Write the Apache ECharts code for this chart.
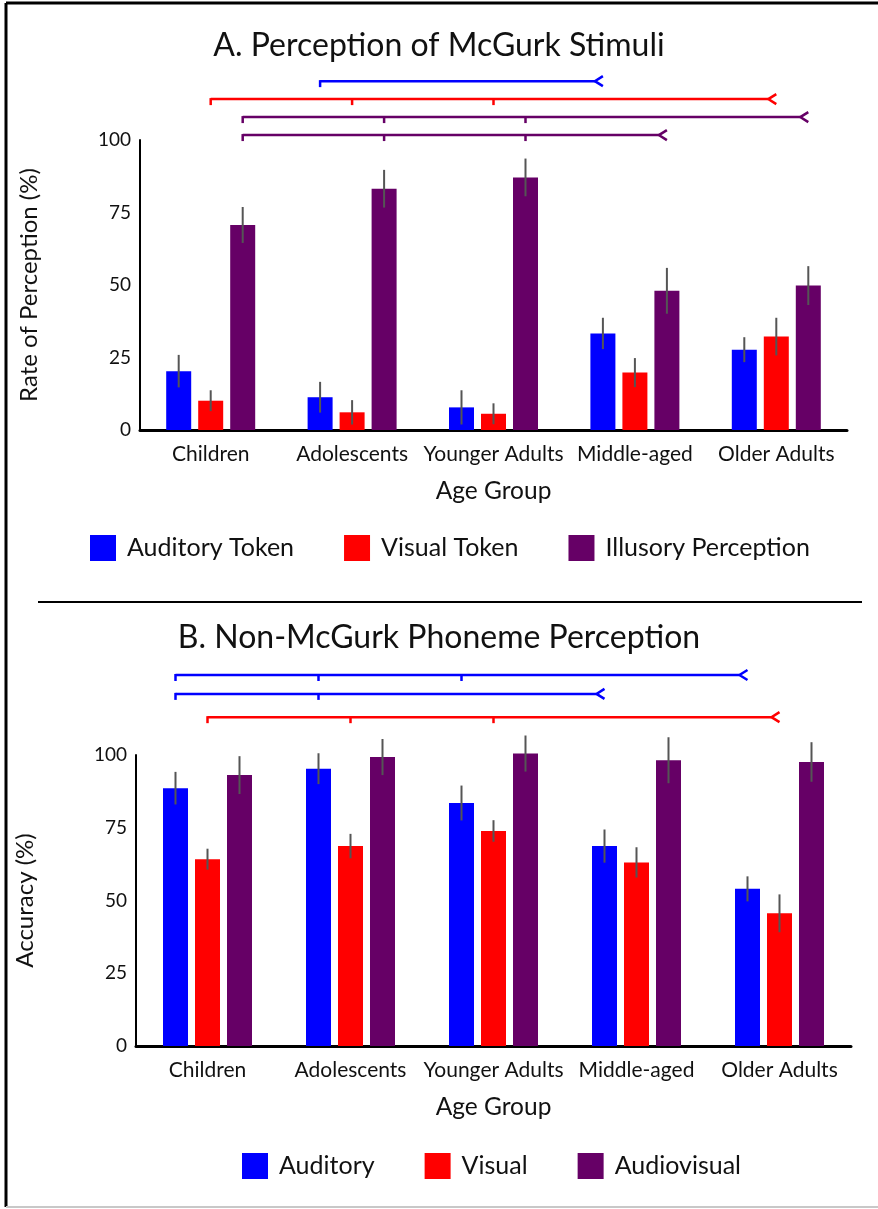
<!DOCTYPE html>
<html>
<head>
<meta charset="utf-8">
<script src="https://cdn.jsdelivr.net/npm/echarts@6/dist/echarts.min.js"></script>
<style>
    html, body { margin: 0; padding: 0; background: #fff; }
    #main { width: 878px; height: 1209px; }
</style>
</head>
<body>
<div id="main"></div>
<script>
// categories / ticks
var ageGroups = ['Children', 'Adolescents', 'Younger Adults', 'Middle-aged', 'Older Adults'];
var yTicks = [0, 25, 50, 75, 100];

// A. McGurk stimuli (% perception, mean and error)
var mcgurkNames = ['Auditory Token', 'Visual Token', 'Illusory Perception'];
var mcgurkAuditory = [20.3, 11.3, 7.8, 33.3, 27.7];
var mcgurkVisual = [10.1, 6.1, 5.6, 19.8, 32.2];
var mcgurkIllusory = [70.7, 83.2, 87.1, 48.0, 49.8];
var mcgurkAuditoryErr = [5.6, 5.3, 5.9, 5.4, 4.3];
var mcgurkVisualErr = [3.6, 4.2, 3.6, 5.0, 6.5];
var mcgurkIllusoryErr = [6.2, 6.5, 6.5, 7.9, 6.7];

// B. Non-McGurk phonemes (% accuracy)
var phonNames = ['Auditory', 'Visual', 'Audiovisual'];
var phonAuditory = [88.6, 95.3, 83.5, 68.7, 54.0];
var phonVisual = [64.2, 68.7, 73.9, 63.1, 45.6];
var phonAudiovisual = [93.1, 99.3, 100.5, 98.2, 97.6];
var phonAuditoryErr = [5.6, 5.3, 6.0, 5.7, 4.3];
var phonVisualErr = [3.6, 4.2, 3.7, 5.2, 6.5];
var phonAudiovisualErr = [6.5, 6.2, 6.2, 7.9, 6.8];

// significance brackets: series, first group, middle groups, last group, height (value units)
var mcgurkBrackets = [
    {s: 0, from: 1, ticks: [], to: 3, level: 120.3},
    {s: 1, from: 0, ticks: [1, 2], to: 4, level: 114.1},
    {s: 2, from: 0, ticks: [1, 2], to: 4, level: 107.9},
    {s: 2, from: 0, ticks: [1, 2], to: 3, level: 101.7}
];
var phonBrackets = [
    {s: 0, from: 0, ticks: [1, 2], to: 4, level: 127.5},
    {s: 0, from: 0, ticks: [1], to: 3, level: 121.0},
    {s: 1, from: 0, ticks: [1, 2], to: 4, level: 113.0}
];

var colors = ['#0000ff', '#ff0000', '#660066'];
var FONT = 'Lato';
var BAR_W = 25, BAR_GAP = 7;
var BAR_STEP = BAR_W + BAR_GAP;

var chart = echarts.init(document.getElementById('main'));

function errData(means, errs) {
    var out = [];
    for (var s = 0; s < means.length; s++) {
        for (var i = 0; i < means[s].length; i++) {
            out.push([i, means[s][i], errs[s][i], s]);
        }
    }
    return out;
}

// vertical error bar centred on each bar
function renderErr(params, api) {
    var cat = api.value(0), m = api.value(1), e = api.value(2), s = api.value(3);
    var off = (s - 1) * BAR_STEP;
    var top = api.coord([cat, m + e]);
    var bot = api.coord([cat, m - e]);
    return {
        type: 'line',
        shape: {x1: top[0] + off, y1: top[1], x2: bot[0] + off, y2: bot[1]},
        style: {stroke: '#555', lineWidth: 2}
    };
}

// bracket: line from first group to last, small drops at each group, "<" at the end
function bracketRenderer(list) {
    return function (params, api) {
        var b = list[params.dataIndex];
        var off = (b.s - 1) * BAR_STEP;
        var st = {stroke: colors[b.s], lineWidth: 2.5, fill: null};
        var p0 = api.coord([b.from, b.level]);
        var p1 = api.coord([b.to, b.level]);
        var y = p0[1], x0 = p0[0] + off, x1 = p1[0] + off;
        var kids = [
            {type: 'line', shape: {x1: x0, y1: y, x2: x1 - 8, y2: y}, style: st},
            {type: 'line', shape: {x1: x0, y1: y - 1, x2: x0, y2: y + 6}, style: st},
            {type: 'polyline', shape: {points: [[x1, y - 5], [x1 - 8, y], [x1, y + 5]]}, style: st}
        ];
        b.ticks.forEach(function (t) {
            var px = api.coord([t, b.level])[0] + off;
            kids.push({type: 'line', shape: {x1: px, y1: y, x2: px, y2: y + 6}, style: st});
        });
        return {type: 'group', children: kids};
    };
}

function barSeries(name, data, idx, s) {
    return {
        name: name,
        type: 'bar',
        xAxisIndex: idx, yAxisIndex: idx,
        data: data,
        barWidth: BAR_W,
        barGap: (BAR_GAP / BAR_W * 100) + '%',
        clip: false,
        itemStyle: {color: colors[s]}
    };
}

function xAx(idx) {
    return {
        type: 'category', gridIndex: idx, data: ageGroups,
        name: 'Age Group', nameLocation: 'middle', nameGap: 49,
        nameTextStyle: {fontFamily: FONT, fontSize: 24.5, color: '#111'},
        axisLine: {lineStyle: {color: '#000', width: 3}},
        axisTick: {show: false},
        axisLabel: {fontFamily: FONT, fontSize: 21, color: '#111', margin: 14, interval: 0}
    };
}

function yAx(idx, name) {
    return {
        type: 'value', gridIndex: idx, min: yTicks[0], max: yTicks[yTicks.length - 1], interval: 25,
        name: name, nameLocation: 'middle', nameGap: 99,
        nameTextStyle: {fontFamily: FONT, fontSize: 24, color: '#111'},
        axisLine: {show: true, lineStyle: {color: '#000', width: 2}},
        axisTick: {show: false},
        splitLine: {show: false},
        axisLabel: {fontFamily: FONT, fontSize: 19, color: '#111', margin: 9}
    };
}

var seriesList = [];
[mcgurkAuditory, mcgurkVisual, mcgurkIllusory].forEach(function (d, s) {
    seriesList.push(barSeries(mcgurkNames[s], d, 0, s));
});
[phonAuditory, phonVisual, phonAudiovisual].forEach(function (d, s) {
    seriesList.push(barSeries(phonNames[s], d, 1, s));
});
seriesList.push({
    type: 'custom', xAxisIndex: 0, yAxisIndex: 0, z: 5, clip: false, silent: true,
    data: errData([mcgurkAuditory, mcgurkVisual, mcgurkIllusory], [mcgurkAuditoryErr, mcgurkVisualErr, mcgurkIllusoryErr]),
    renderItem: renderErr
});
seriesList.push({
    type: 'custom', xAxisIndex: 1, yAxisIndex: 1, z: 5, clip: false, silent: true,
    data: errData([phonAuditory, phonVisual, phonAudiovisual], [phonAuditoryErr, phonVisualErr, phonAudiovisualErr]),
    renderItem: renderErr
});
seriesList.push({
    type: 'custom', xAxisIndex: 0, yAxisIndex: 0, z: 5, clip: false, silent: true,
    data: mcgurkBrackets.map(function (b) { return [b.from, b.level]; }),
    renderItem: bracketRenderer(mcgurkBrackets)
});
seriesList.push({
    type: 'custom', xAxisIndex: 1, yAxisIndex: 1, z: 5, clip: false, silent: true,
    data: phonBrackets.map(function (b) { return [b.from, b.level]; }),
    renderItem: bracketRenderer(phonBrackets)
});

var legendText = {fontFamily: FONT, fontSize: 25, color: '#111', padding: [0, 0, 0, 6]};
var titleText = {fontFamily: FONT, fontSize: 32, fontWeight: 'normal', color: '#111'};

var option = {
    animation: false,
    backgroundColor: '#fff',
    title: [
        {text: 'A. Perception of McGurk Stimuli', left: 'center', top: 25, textStyle: titleText},
        {text: 'B. Non-McGurk Phoneme Perception', left: 'center', top: 617, textStyle: titleText}
    ],
    legend: [
        {data: mcgurkNames, left: 90, top: 535, padding: 0, icon: 'rect', itemWidth: 26, itemHeight: 26,
            itemGap: 50, textStyle: legendText, selectedMode: false},
        {data: phonNames, left: 242, top: 1153, padding: 0, icon: 'rect', itemWidth: 26, itemHeight: 26,
            itemGap: 50, textStyle: legendText, selectedMode: false}
    ],
    grid: [
        {left: 140, top: 140, width: 707, height: 290},
        {left: 136, top: 755, width: 715, height: 291}
    ],
    xAxis: [xAx(0), xAx(1)],
    yAxis: [yAx(0, 'Rate of Perception (%)'), yAx(1, 'Accuracy (%)')],
    series: seriesList,
    graphic: [
        {type: 'line', shape: {x1: 6, y1: 3, x2: 878, y2: 3}, style: {stroke: '#000', lineWidth: 3}},
        {type: 'line', shape: {x1: 6, y1: 3, x2: 6, y2: 1207}, style: {stroke: '#000', lineWidth: 3}},
        {type: 'line', shape: {x1: 6, y1: 1207, x2: 878, y2: 1207}, style: {stroke: '#c8c8c8', lineWidth: 2}},
        {type: 'line', shape: {x1: 38, y1: 602, x2: 862, y2: 602}, style: {stroke: '#000', lineWidth: 2}}
    ]
};

chart.setOption(option);
</script>
</body>
</html>
